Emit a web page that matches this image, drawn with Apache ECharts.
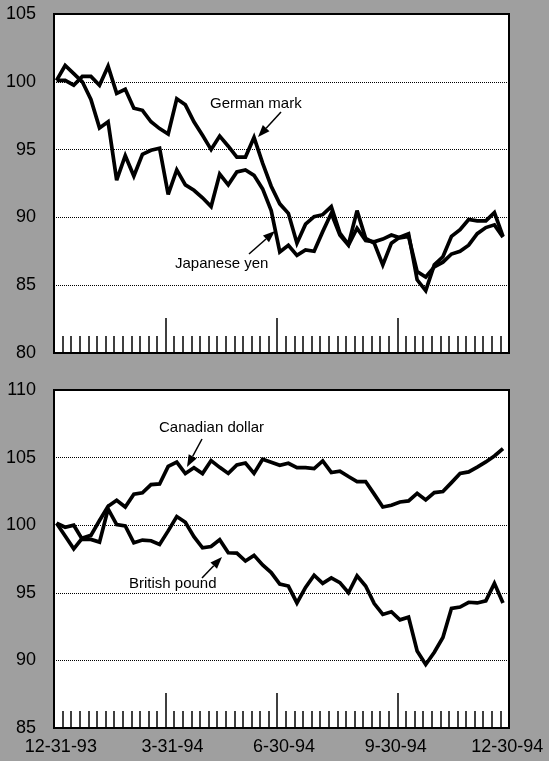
<!DOCTYPE html>
<html>
<head>
<meta charset="utf-8">
<script src="https://cdn.jsdelivr.net/npm/echarts@6/dist/echarts.min.js"></script>
<style>
  html, body { margin: 0; padding: 0; background: #9f9f9f; }
  #chart { width: 549px; height: 761px; }
</style>
</head>
<body>
<div id="chart"></div>
<script>
// weekly index, week 0 = 12-31-93, week 52 = 12-30-94
const tickLabels = ['12-31-93', '3-31-94', '6-30-94', '9-30-94', '12-30-94'];
const labelWeeks = [0, 13, 26, 39, 52];
const majorTickWeeks = [13, 26, 40];

const germanMark = [100.1, 100.1, 99.75, 100.4, 100.4, 99.75, 101.15, 99.15, 99.45, 98.05,
  97.9, 97.05, 96.55, 96.15, 98.75, 98.3, 97.05, 96.05, 95.0, 96.0,
  95.25, 94.45, 94.45, 95.9, 94.0, 92.3, 91.0, 90.3, 88.1, 89.5,
  90.05, 90.2, 90.8, 88.85, 88.0, 90.5, 88.45, 88.1, 86.5, 88.1,
  88.55, 88.8, 85.4, 84.6, 86.5, 87.1, 88.6, 89.1, 89.85, 89.75,
  89.75, 90.35, 88.6];
const japaneseYen = [100.1, 101.2, 100.6, 100.0, 98.7, 96.6, 97.05, 92.75, 94.55, 93.05,
  94.65, 94.95, 95.1, 91.7, 93.5, 92.4, 92.0, 91.45, 90.8, 93.2,
  92.4, 93.35, 93.5, 93.1, 92.1, 90.5, 87.45, 87.95, 87.2, 87.6,
  87.5, 88.95, 90.3, 88.7, 87.95, 89.2, 88.3, 88.2, 88.4, 88.7,
  88.5, 88.6, 86.0, 85.6, 86.35, 86.7, 87.3, 87.5, 87.95, 88.8,
  89.25, 89.45, 88.55];
const canadianDollar = [100.15, 99.2, 98.25, 99.05, 99.25, 100.35, 101.4, 101.85, 101.35, 102.3,
  102.4, 103.0, 103.05, 104.35, 104.67, 103.82, 104.25, 103.82, 104.78, 104.28,
  103.83, 104.45, 104.6, 103.83, 104.87, 104.65, 104.43, 104.58, 104.26, 104.26,
  104.19, 104.75, 103.9, 104.0, 103.6, 103.23, 103.23, 102.3, 101.35, 101.48,
  101.72, 101.8, 102.36, 101.87, 102.41, 102.49, 103.15, 103.82, 103.94, 104.3,
  104.68, 105.12, 105.66];
const britishPound = [100.15, 99.85, 100.0, 98.95, 98.95, 98.75, 101.2, 100.05, 99.95, 98.7,
  98.9, 98.85, 98.58, 99.58, 100.64, 100.22, 99.15, 98.33, 98.42, 98.92,
  97.96, 97.93, 97.35, 97.77, 97.06, 96.5, 95.65, 95.5, 94.25, 95.4,
  96.3, 95.7, 96.1, 95.75, 95.0, 96.25, 95.5, 94.2, 93.4, 93.6,
  93.0, 93.2, 90.7, 89.7, 90.6, 91.7, 93.85, 93.95, 94.3, 94.25,
  94.4, 95.7, 94.25];

const FONT = 'Liberation Sans, Arial, sans-serif';
const POS = 0.3;       // where a week's point sits inside its tick slot
const LABEL_POS = 0.8;

const chart = echarts.init(document.getElementById('chart'));

function pts(values) {
  return values.map((v, i) => [i + POS, v]);
}

// small week ticks + long quarter ticks, both pointing up into the panel
function xAxes(gridIndex, withLabels) {
  return [
    {
      gridIndex, type: 'value', position: 'bottom', min: 0, max: 53, interval: 1,
      axisLine: { lineStyle: { color: '#000', width: 2 } },
      axisTick: { inside: true, length: 17, lineStyle: { color: '#000', width: 1.5 } },
      axisLabel: { show: false },
      splitLine: { show: false }
    },
    {
      gridIndex, type: 'value', position: 'bottom', min: 0, max: 53,
      axisLine: { show: false },
      axisTick: { inside: true, length: 35, customValues: majorTickWeeks,
        lineStyle: { color: '#000', width: 1.5 } },
      axisLabel: {
        show: withLabels,
        customValues: labelWeeks.map(w => w + LABEL_POS),
        formatter: v => tickLabels[labelWeeks.indexOf(Math.round(v - LABEL_POS))],
        color: '#000', fontSize: 18, fontFamily: FONT, margin: 10
      },
      splitLine: { show: false }
    }
  ];
}

function yAxis(gridIndex, min, max) {
  return {
    gridIndex, type: 'value', min, max, interval: 5,
    axisLine: { show: true, lineStyle: { color: '#000', width: 2 } },
    axisTick: { show: false },
    axisLabel: { color: '#000', fontSize: 18, fontFamily: FONT, margin: 18 },
    splitLine: { lineStyle: { color: '#000', type: 'dotted', width: 1 } }
  };
}

function line(name, values, axisIndex) {
  return {
    name, type: 'line', xAxisIndex: axisIndex * 2, yAxisIndex: axisIndex,
    data: pts(values), showSymbol: false, silent: true,
    lineStyle: { color: '#000', width: 3.7, join: 'miter', miterLimit: 3 }
  };
}

function arrow(x1, y1, x2, y2) {
  const dx = x2 - x1, dy = y2 - y1, L = Math.hypot(dx, dy);
  const ux = dx / L, uy = dy / L, hl = 12, hw = 4.5;
  const bx = x2 - ux * hl, by = y2 - uy * hl;
  return [
    { type: 'line', shape: { x1, y1, x2: bx, y2: by }, style: { stroke: '#000', lineWidth: 1.5 } },
    { type: 'polygon', shape: { points: [[x2, y2], [bx - uy * hw, by + ux * hw], [bx + uy * hw, by - ux * hw]] },
      style: { fill: '#000' } }
  ];
}

function note(text, x, y) {
  return { type: 'text', x, y, style: { text, fill: '#000', font: '15px ' + FONT, textVerticalAlign: 'middle' } };
}

const option = {
  backgroundColor: '#9f9f9f',
  animation: false,
  grid: [
    { left: 54, right: 40, top: 14, height: 339, show: true, backgroundColor: '#fff', borderColor: '#000', borderWidth: 2 },
    { left: 54, right: 40, top: 390, height: 338, show: true, backgroundColor: '#fff', borderColor: '#000', borderWidth: 2 }
  ],
  xAxis: [...xAxes(0, false), ...xAxes(1, true)],
  yAxis: [yAxis(0, 80, 105), yAxis(1, 85, 110)],
  series: [
    line('German mark', germanMark, 0),
    line('Japanese yen', japaneseYen, 0),
    line('Canadian dollar', canadianDollar, 1),
    line('British pound', britishPound, 1)
  ],
  graphic: [
    note('German mark', 210, 104),
    ...arrow(281, 112, 258, 137),
    note('Japanese yen', 175, 264),
    ...arrow(249, 254, 275, 231),
    note('Canadian dollar', 159, 428),
    ...arrow(202, 439, 187, 467),
    note('British pound', 129, 584),
    ...arrow(202, 578, 222, 557)
  ]
};

chart.setOption(option);
</script>
</body>
</html>
